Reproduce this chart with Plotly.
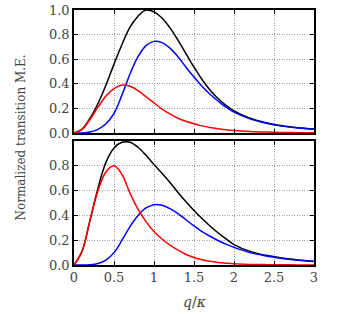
import plotly.graph_objects as go
from plotly.subplots import make_subplots

# ---- data ----
q = [0.0, 0.1, 0.2, 0.3, 0.4, 0.5, 0.6, 0.7, 0.8, 0.9, 1.0, 1.1, 1.2, 1.3, 1.4,
     1.5, 1.6, 1.7, 1.8, 1.9, 2.0, 2.2, 2.4, 2.6, 2.8, 3.0]

top_red = [0.0, 0.03, 0.11, 0.21, 0.30, 0.36, 0.39, 0.38, 0.345, 0.295, 0.245, 0.195, 0.155,
           0.12, 0.095, 0.075, 0.058, 0.045, 0.035, 0.027, 0.021, 0.013, 0.008, 0.005, 0.003, 0.002]
top_blue = [0.0, 0.0, 0.008, 0.03, 0.075, 0.16, 0.31, 0.48, 0.62, 0.71, 0.745, 0.735, 0.69,
            0.62, 0.535, 0.455, 0.38, 0.315, 0.26, 0.21, 0.17, 0.115, 0.08, 0.056, 0.04, 0.03]
top_black = [0.0, 0.03, 0.12, 0.24, 0.39, 0.56, 0.72, 0.86, 0.95, 1.0, 0.985, 0.935, 0.855,
             0.755, 0.645, 0.535, 0.435, 0.35, 0.28, 0.225, 0.18, 0.12, 0.083, 0.059, 0.043, 0.033]

bot_red = [0.0, 0.11, 0.36, 0.60, 0.75, 0.80, 0.73, 0.58, 0.45, 0.35, 0.27, 0.21, 0.16,
           0.12, 0.085, 0.06, 0.042, 0.03, 0.021, 0.015, 0.01, 0.005, 0.003, 0.002, 0.001, 0.001]
bot_blue = [0.0, 0.0, 0.002, 0.012, 0.04, 0.10, 0.20, 0.31, 0.40, 0.46, 0.487, 0.482, 0.455,
            0.415, 0.365, 0.315, 0.27, 0.232, 0.198, 0.168, 0.142, 0.10, 0.073, 0.053, 0.039, 0.028]
bot_black = [0.0, 0.11, 0.36, 0.62, 0.83, 0.945, 0.99, 0.99, 0.95, 0.885, 0.81, 0.74, 0.665,
             0.585, 0.51, 0.44, 0.375, 0.315, 0.26, 0.21, 0.165, 0.11, 0.078, 0.056, 0.041, 0.03]

x_ticks = [0, 0.5, 1, 1.5, 2, 2.5, 3]
x_labels = ["0", "0.5", "1", "1.5", "2", "2.5", "3"]
y_ticks_top = [0, 0.2, 0.4, 0.6, 0.8, 1.0]
y_labels_top = ["0.0", "0.2", "0.4", "0.6", "0.8", "1.0"]
y_ticks_bot = [0, 0.2, 0.4, 0.6, 0.8, 1.0]
y_labels_bot = ["0.0", "0.2", "0.4", "0.6", "0.8", ""]

x_title = "<i>q</i>/<i>κ</i>"
y_title = "Normalized transition M.E."

FONT = "DejaVu Serif"
TXT = "#444444"

fig = make_subplots(rows=2, cols=1, shared_xaxes=False, vertical_spacing=0.03)

for row, series in ((1, (top_black, top_blue, top_red)), (2, (bot_black, bot_blue, bot_red))):
    for ys, col in zip(series, ("black", "blue", "red")):
        fig.add_trace(go.Scatter(x=q, y=ys, mode="lines",
                                 line=dict(color=col, width=1.5, shape="spline", smoothing=1.0),
                                 showlegend=False), row=row, col=1)

axis_common = dict(range=[0, 3], showline=True, linecolor="black", linewidth=1.5,
                   mirror="ticks", ticks="inside", ticklen=4, tickcolor="black",
                   showgrid=True, gridcolor="#a0a0a0", griddash="1px,1.5px", gridwidth=1,
                   zeroline=False, automargin=False,
                   tickfont=dict(family=FONT, size=13, color=TXT))

fig.update_layout(
    width=338, height=314,
    margin=dict(l=74, r=24, t=10, b=49),
    paper_bgcolor="white", plot_bgcolor="white",
    xaxis=dict(axis_common, domain=[0, 1], tickvals=x_ticks, ticktext=[""] * len(x_ticks)),
    xaxis2=dict(axis_common, domain=[0, 1], tickvals=x_ticks, ticktext=x_labels),
    yaxis=dict(axis_common, domain=[0.5176, 1.0], range=[0, 1.0],
               tickvals=y_ticks_top, ticktext=y_labels_top),
    yaxis2=dict(axis_common, domain=[0.0, 0.486], range=[0, 1.0],
                tickvals=y_ticks_bot, ticktext=y_labels_bot),
    annotations=[
        dict(text=x_title, x=0.5, y=0, xref="paper", yref="paper", yshift=-37,
             showarrow=False, yanchor="middle", font=dict(family=FONT, size=14, color=TXT)),
        dict(text=y_title, x=0, y=0.5, xref="paper", yref="paper", textangle=-90, xshift=-54,
             showarrow=False, xanchor="center", yanchor="middle",
             font=dict(family=FONT, size=12, color=TXT)),
    ],
)

fig.write_html("out.html", config={"displayModeBar": False},
               post_script="document.body.style.margin='0';")
